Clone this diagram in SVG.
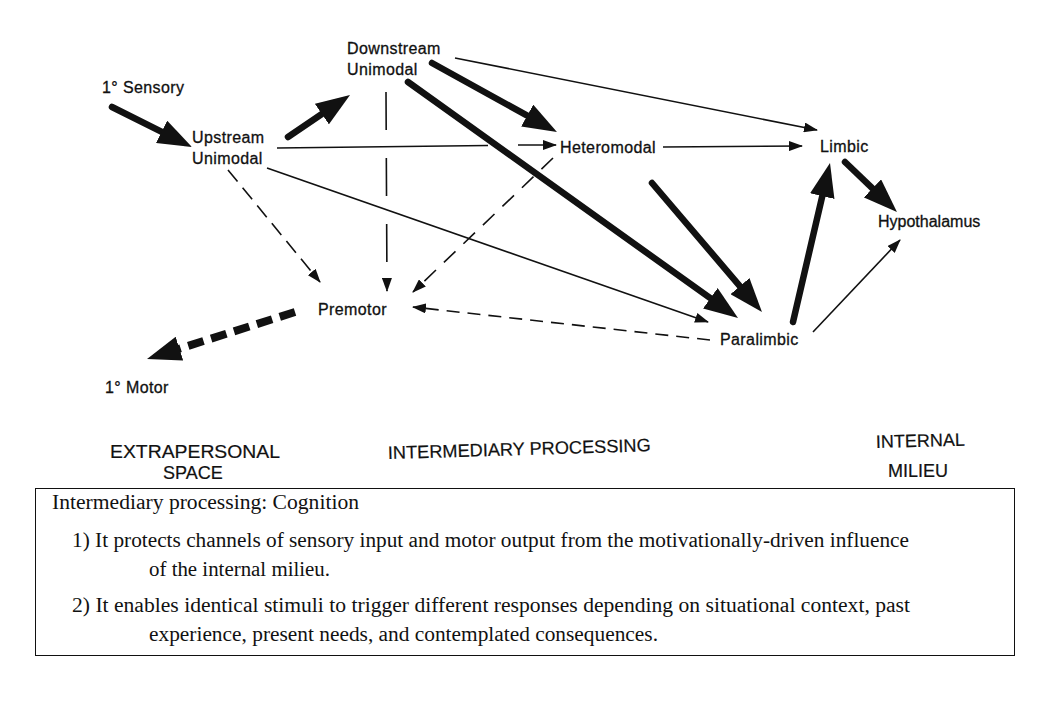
<svg xmlns="http://www.w3.org/2000/svg" width="1040" height="720" viewBox="0 0 1040 720">
<defs>
<style>
.lbl{font-family:"Liberation Sans",Arial,sans-serif;font-size:16px;fill:#111;stroke:#111;stroke-width:0.3;letter-spacing:0.4px}
.hd{font-family:"Liberation Sans",Arial,sans-serif;font-size:18px;fill:#111;stroke:#111;stroke-width:0.2}
.tx{font-family:"Liberation Serif","Times New Roman",serif;font-size:20px;fill:#111}
.thick{stroke:#111;stroke-width:6.5;fill:none;stroke-linecap:round}
.thin{stroke:#111;stroke-width:1.6;fill:none}
.dash{stroke:#111;stroke-width:1.6;fill:none;stroke-dasharray:14 9}
.tdash{stroke:#111;stroke-width:8;fill:none;stroke-dasharray:16 8}
</style>
<marker id="big" markerUnits="userSpaceOnUse" markerWidth="34" markerHeight="25" viewBox="0 0 34 25" refX="12" refY="12.5" orient="auto">
<path d="M0,0 L34,12.5 L0,25 z" fill="#111"/>
</marker>
<marker id="small" markerUnits="userSpaceOnUse" markerWidth="14" markerHeight="10" viewBox="0 0 14 10" refX="13" refY="5" orient="auto">
<path d="M0,0 L14,5 L0,10 z" fill="#111"/>
</marker>
</defs>
<rect width="1040" height="720" fill="#fff"/>

<g id="connectors">
<line class="thick" x1="112" y1="107" x2="172.3" y2="137.2" marker-end="url(#big)"/>
<line class="thick" x1="288" y1="137" x2="331.8" y2="107.3" marker-end="url(#big)"/>
<line class="thick" x1="432" y1="63" x2="537.7" y2="121.4" marker-end="url(#big)"/>
<line class="thin" x1="277" y1="148" x2="488" y2="145.5"/>
<line class="thin" x1="518" y1="145" x2="556" y2="145" marker-end="url(#small)"/>
<line class="thick" x1="408" y1="82" x2="720.1" y2="305.2" marker-end="url(#big)"/>
<line class="thick" x1="652" y1="183" x2="747.7" y2="295.3" marker-end="url(#big)"/>
<line class="thin" x1="455" y1="58" x2="817" y2="130" marker-end="url(#small)"/>
<line class="thin" x1="663" y1="147" x2="802" y2="146" marker-end="url(#small)"/>
<line class="thick" x1="845" y1="162" x2="881.1" y2="196.7" marker-end="url(#big)"/>
<line class="thick" x1="793" y1="322" x2="825" y2="184.4" marker-end="url(#big)"/>
<line class="thin" x1="813" y1="332" x2="900" y2="240" marker-end="url(#small)"/>
<line class="thin" x1="267" y1="168" x2="708" y2="322" marker-end="url(#small)"/>
<line class="dash" x1="228" y1="170" x2="320" y2="282" marker-end="url(#small)" style="stroke-dasharray:15 8"/>
<line class="dash" x1="386" y1="92" x2="387" y2="291" marker-end="url(#small)" style="stroke-dasharray:38 28"/>
<line class="dash" x1="553" y1="158" x2="413" y2="292" marker-end="url(#small)" style="stroke-dasharray:16 11"/>
<line class="dash" x1="710" y1="340" x2="413" y2="307" marker-end="url(#small)" style="stroke-dasharray:13 8"/>
<line class="tdash" x1="295" y1="312" x2="168" y2="352.3" marker-end="url(#big)"/>
</g>

<g id="n-sensory"><text class="lbl" x="102" y="93">1° Sensory</text></g>
<g id="n-downstream"><text class="lbl" x="347" y="54">Downstream</text><text class="lbl" x="347" y="75">Unimodal</text></g>
<g id="n-upstream"><text class="lbl" x="192" y="143">Upstream</text><text class="lbl" x="192" y="164">Unimodal</text></g>
<g id="n-heteromodal"><text class="lbl" x="560" y="153">Heteromodal</text></g>
<g id="n-limbic"><text class="lbl" x="820" y="152">Limbic</text></g>
<g id="n-hypothalamus"><text class="lbl" x="878" y="227" style="letter-spacing:0">Hypothalamus</text></g>
<g id="n-premotor"><text class="lbl" x="318" y="315">Premotor</text></g>
<g id="n-paralimbic"><text class="lbl" x="720" y="345">Paralimbic</text></g>
<g id="n-motor"><text class="lbl" x="105" y="393">1° Motor</text></g>

<g id="headings">
<text class="hd" x="110" y="458" textLength="170" lengthAdjust="spacingAndGlyphs">EXTRAPERSONAL</text>
<text class="hd" x="163" y="479">SPACE</text>
<text class="hd" x="388" y="459" textLength="263" lengthAdjust="spacingAndGlyphs" transform="rotate(-1.7 388 459)">INTERMEDIARY PROCESSING</text>
<text class="hd" x="876" y="448" transform="rotate(-1.5 876 448)">INTERNAL</text>
<text class="hd" x="888" y="477">MILIEU</text>
</g>

<g id="note">
<rect x="35.5" y="488.5" width="979" height="167" fill="none" stroke="#111" stroke-width="1"/>
<text class="tx" x="52" y="509" textLength="307" lengthAdjust="spacingAndGlyphs">Intermediary processing: Cognition</text>
<text class="tx" x="72" y="547" textLength="837" lengthAdjust="spacingAndGlyphs">1) It protects channels of sensory input and motor output from the motivationally-driven influence</text>
<text class="tx" x="149" y="576" textLength="181" lengthAdjust="spacingAndGlyphs">of the internal milieu.</text>
<text class="tx" x="72" y="612" textLength="838" lengthAdjust="spacingAndGlyphs">2) It enables identical stimuli to trigger different responses depending on situational context, past</text>
<text class="tx" x="149" y="641" textLength="509" lengthAdjust="spacingAndGlyphs">experience, present needs, and contemplated consequences.</text>
</g>
</svg>
